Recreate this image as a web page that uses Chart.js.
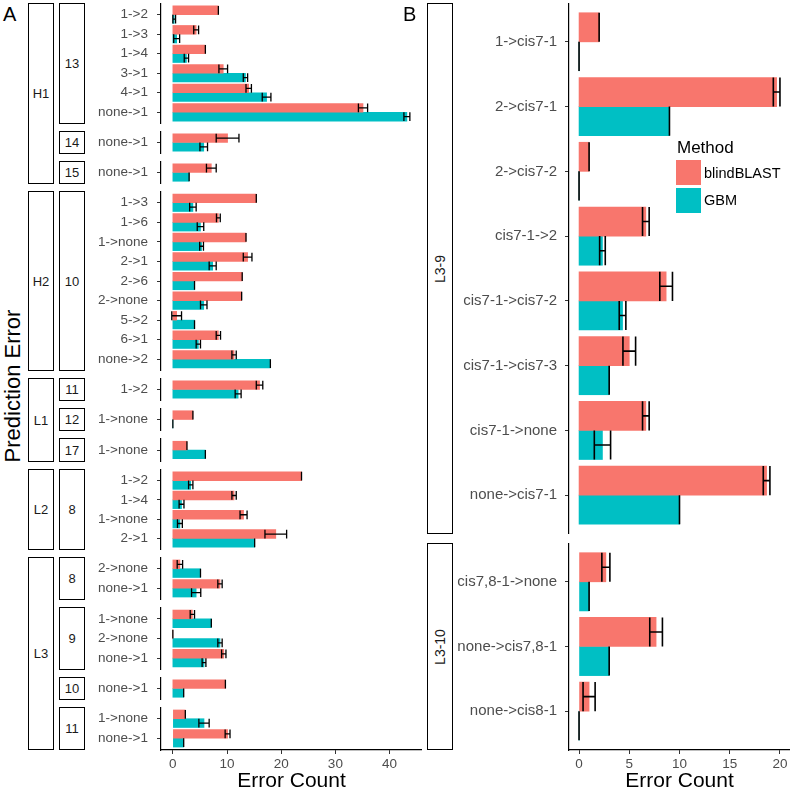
<!DOCTYPE html>
<html>
<head>
<meta charset="utf-8">
<script src="https://cdn.jsdelivr.net/npm/chart.js@4.4.1/dist/chart.umd.min.js"></script>
<style>
  body { margin: 0; background: #fff; font-family: "Liberation Sans", Arial, sans-serif; }
  #wrap { position: relative; width: 798px; height: 792px; overflow: hidden; }
  canvas { position: absolute; }
  .strip { position: absolute; box-sizing: border-box; border: 1.5px solid #000; background: #fff;
           display: flex; align-items: center; justify-content: center; font-size: 13px; color: #1a1a1a; }
  .strip.rot span { transform: rotate(-90deg); white-space: nowrap; font-size: 14px; }
  .txt { position: absolute; white-space: nowrap; color: #000; line-height: 1; }
  .key { position: absolute; width: 25px; height: 25px; }
</style>
</head>
<body>
<div id="wrap"></div>
<script>
// ---- Panel A ----
const aOuter = ['H1','H1','H1','H1','H1','H1','H1','H1',
  'H2','H2','H2','H2','H2','H2','H2','H2','H2',
  'L1','L1','L1', 'L2','L2','L2','L2',
  'L3','L3','L3','L3','L3','L3','L3','L3'];
const aInner = ['13','13','13','13','13','13','14','15',
  '10','10','10','10','10','10','10','10','10',
  '11','12','17', '8','8','8','8',
  '8','8','9','9','9','10','11','11'];
const aErrors = ['1->2','1->3','1->4','3->1','4->1','none->1','none->1','none->1',
  '1->3','1->6','1->none','2->1','2->6','2->none','5->2','6->1','none->2',
  '1->2','1->none','1->none', '1->2','1->4','1->none','2->1',
  '2->none','none->1','1->none','2->none','none->1','none->1','1->none','none->1'];
const aBlind    = [8.4, 4.3, 6.0, 9.3, 14.0, 35.1, 10.1, 7.1,
  15.4, 8.4, 13.5, 13.8, 12.8, 12.7, 0.7, 8.4, 11.3,
  16.0, 3.7, 2.6, 23.75, 11.3, 13.05, 19.0,
  1.3, 8.7, 3.6, 0, 9.4, 9.7, 2.3, 10.1];
const aBlindErr = [0, 0.45, 0, 0.8, 0.5, 0.85, 2.1, 0.9,
  0, 0.35, 0, 0.8, 0, 0, 0.9, 0.4, 0.4,
  0.6, 0, 0, 0, 0.4, 0.65, 2.0,
  0.5, 0.4, 0.4, 0, 0.4, 0, 0, 0.45];
const aGbm      = [0.25, 0.7, 2.5, 13.4, 17.3, 43.2, 5.7, 3.0,
  3.7, 5.1, 5.3, 7.35, 4.0, 5.7, 4.0, 4.7, 18.0,
  12.05, 0, 6.0, 3.3, 1.6, 1.3, 15.1,
  5.1, 4.3, 7.1, 8.7, 5.75, 2.0, 5.75, 2.0];
const aGbmErr   = [0.25, 0.55, 0.4, 0.4, 0.8, 0.55, 0.7, 0,
  0.6, 0.6, 0.35, 0.65, 0, 0.6, 0, 0.4, 0,
  0.55, 0, 0, 0.4, 0.45, 0.45, 0,
  0, 0.85, 0, 0.4, 0.35, 0, 0.95, 0];
const aTicks = [0, 10, 20, 30, 40];

// ---- Panel B ----
const bOuter = ['L3-9','L3-9','L3-9','L3-9','L3-9','L3-9','L3-9','L3-9','L3-10','L3-10','L3-10'];
const bErrors = ['1->cis7-1','2->cis7-1','2->cis7-2','cis7-1->2','cis7-1->cis7-2','cis7-1->cis7-3',
  'cis7-1->none','none->cis7-1','cis7,8-1->none','none->cis7,8-1','none->cis8-1'];
const bBlind    = [2.0, 19.67, 1.0, 6.65, 8.67, 5.0, 6.65, 18.67, 2.67, 7.67, 1.0];
const bBlindErr = [0, 0.33, 0, 0.33, 0.63, 0.63, 0.33, 0.33, 0.4, 0.63, 0.6];
const bGbm      = [0, 9.0, 0, 2.33, 4.33, 3.0, 2.33, 10.0, 1.0, 3.0, 0];
const bGbmErr   = [0, 0, 0, 0.28, 0.33, 0, 0.81, 0, 0, 0, 0];
const bTicks = [0, 5, 10, 15, 20];

const RED = '#F8766D', TEAL = '#00BFC4';
const FONT = "'Liberation Sans', Arial, sans-serif";
const AXIS_H = 42;
Chart.defaults.font.family = FONT;

const wrap = document.getElementById('wrap');

const errorBars = {
  id: 'errorBars',
  afterDatasetsDraw(chart, args, opts) {
    const ctx = chart.ctx, xs = chart.scales.x;
    ctx.save();
    ctx.strokeStyle = '#000';
    ctx.lineWidth = opts.width || 1;
    chart.data.datasets.forEach((ds, di) => {
      chart.getDatasetMeta(di).data.forEach((bar, i) => {
        const v = ds.data[i].x, e = ds.err[i];
        const x0 = xs.getPixelForValue(v - e), x1 = xs.getPixelForValue(v + e);
        const h = bar.height / 2;
        ctx.beginPath();
        ctx.moveTo(x0, bar.y - h); ctx.lineTo(x0, bar.y + h);
        ctx.moveTo(x1, bar.y - h); ctx.lineTo(x1, bar.y + h);
        ctx.moveTo(x0, bar.y); ctx.lineTo(x1, bar.y);
        ctx.stroke();
      });
    });
    ctx.restore();
  }
};

// split rows into consecutive facet groups
function facets(outer, inner) {
  const out = [];
  outer.forEach((o, i) => {
    const key = o + '|' + (inner ? inner[i] : '');
    let g = out[out.length - 1];
    if (!g || g.key !== key) {
      g = { key, outer: o, inner: inner ? inner[i] : null, idx: [] };
      out.push(g);
    }
    g.idx.push(i);
  });
  return out;
}

function layout(groups, top, u, gap) {
  let y = top;
  groups.forEach(g => {
    g.top = y;
    g.bottom = y + (g.idx.length + 0.2) * u;
    y = g.bottom + gap;
  });
}

function strip(x, y0, y1, w, text, rot) {
  const d = document.createElement('div');
  d.className = 'strip' + (rot ? ' rot' : '');
  const t = Math.round(y0);
  d.style.left = x + 'px';
  d.style.top = t + 'px';
  d.style.width = w + 'px';
  d.style.height = (Math.round(y1) - t) + 'px';
  d.innerHTML = '<span>' + text + '</span>';
  wrap.appendChild(d);
}

function text(str, x, y, size, opts = {}) {
  const d = document.createElement('div');
  d.className = 'txt';
  d.textContent = str;
  d.style.fontSize = size + 'px';
  d.style.left = x + 'px';
  d.style.top = y + 'px';
  if (opts.rot) {
    d.style.transform = 'translate(-50%,-50%) rotate(-90deg)';
  } else if (opts.center) {
    d.style.transform = 'translate(0,-50%)';
  }
  wrap.appendChild(d);
}

function panel(g, cfg, last) {
  const labels = g.idx.map(i => cfg.labels[i]);
  const n = labels.length;
  const top = Math.round(g.top);
  const h = Math.round(g.bottom) - top;
  const c = document.createElement('canvas');
  c.width = cfg.width;
  c.height = h + (last ? AXIS_H : 0);
  c.style.left = cfg.left + 'px';
  c.style.top = top + 'px';
  wrap.appendChild(c);

  const thick = cfg.u * 0.45;
  new Chart(c, {
    type: 'bar',
    data: {
      datasets: [
        { label: 'blindBLAST', data: g.idx.map((i, k) => ({ x: cfg.blind[i], y: k })),
          err: g.idx.map(i => cfg.blindErr[i]), backgroundColor: RED, barThickness: thick },
        { label: 'GBM', data: g.idx.map((i, k) => ({ x: cfg.gbm[i], y: k })),
          err: g.idx.map(i => cfg.gbmErr[i]), backgroundColor: TEAL, barThickness: thick }
      ]
    },
    options: {
      indexAxis: 'y',
      responsive: false,
      animation: false,
      devicePixelRatio: 1,
      layout: { padding: 0 },
      plugins: { legend: { display: false }, tooltip: { enabled: false }, errorBars: { width: cfg.errW } },
      scales: {
        x: {
          type: 'linear', min: cfg.xmin, max: cfg.xmax, beginAtZero: false,
          display: !!last,
          afterBuildTicks: s => { s.ticks = cfg.ticks.map(v => ({ value: v })); },
          afterFit: s => {
            if (!last) return;
            s.height = AXIS_H; s.paddingLeft = 0; s.paddingRight = 0;
          },
          grid: { display: true, drawOnChartArea: false, drawTicks: true, tickLength: 4, tickColor: '#333', tickWidth: 1 },
          border: { display: true, color: '#000', width: 1.2 },
          ticks: { color: '#4D4D4D', font: { size: 13.5 }, padding: 2, maxRotation: 0 },
          title: { display: true, text: 'Error Count', color: '#000', font: { size: 21, lineHeight: 1 }, padding: 0 }
        },
        y: {
          type: 'linear', min: -0.6, max: n - 0.4, reverse: true, offset: false,
          afterBuildTicks: s => { s.ticks = labels.map((_, k) => ({ value: k })); },
          afterFit: s => { s.width = cfg.yWidth; s.paddingTop = 0; s.paddingBottom = 0; },
          grid: { display: true, offset: false, drawOnChartArea: false, drawTicks: true, tickLength: 4, tickColor: '#333', tickWidth: 1 },
          border: { display: true, color: '#000', width: 1.2 },
          ticks: { color: '#4D4D4D', font: { size: cfg.labelSize }, padding: cfg.labelPad,
                   autoSkip: false, callback: v => labels[v] }
        }
      }
    },
    plugins: [errorBars]
  });
}

// ---- Panel A layout ----
const aGroups = facets(aOuter, aInner);
layout(aGroups, 3, 19.47, 7);
const aCfg = { labels: aErrors, blind: aBlind, blindErr: aBlindErr, gbm: aGbm, gbmErr: aGbmErr,
  left: 88, width: 334, yWidth: 73, xmin: -2.19, xmax: 45.99, ticks: aTicks, u: 19.47,
  labelSize: 13.5, labelPad: 9, errW: 1.3 };
aGroups.forEach((g, k) => panel(g, aCfg, k === aGroups.length - 1));

facets(aOuter).forEach(o => {
  const inner = aGroups.filter(g => g.outer === o.outer);
  strip(28, inner[0].top, inner[inner.length - 1].bottom, 26, o.outer, false);
});
aGroups.forEach(g => strip(59, g.top, g.bottom, 26, g.inner, false));

// ---- Panel B layout ----
const bGroups = facets(bOuter);
layout(bGroups, 3.3, 64.7, 9.1);
const bCfg = { labels: bErrors, blind: bBlind, blindErr: bBlindErr, gbm: bGbm, gbmErr: bGbmErr,
  left: 453, width: 337, yWidth: 116, xmin: -1, xmax: 21, ticks: bTicks, u: 64.7,
  labelSize: 15, labelPad: 8, errW: 1.6 };
bGroups.forEach((g, k) => panel(g, bCfg, k === bGroups.length - 1));
bGroups.forEach(g => strip(427, g.top, g.bottom, 26, g.outer, true));

// ---- titles, tags, legend ----
text('A', 3, 4, 20);
text('B', 403, 4, 20);
text('Prediction Error', 13, 386, 22, { rot: true });
text('Method', 677, 147, 17, { center: true });
const k1 = document.createElement('div'); k1.className = 'key';
k1.style.left = '676px'; k1.style.top = '160px'; k1.style.background = RED; wrap.appendChild(k1);
const k2 = document.createElement('div'); k2.className = 'key';
k2.style.left = '676px'; k2.style.top = '188px'; k2.style.background = TEAL; wrap.appendChild(k2);
text('blindBLAST', 704, 173, 14.5, { center: true });
text('GBM', 704, 200, 14.5, { center: true });
</script>
</body>
</html>
